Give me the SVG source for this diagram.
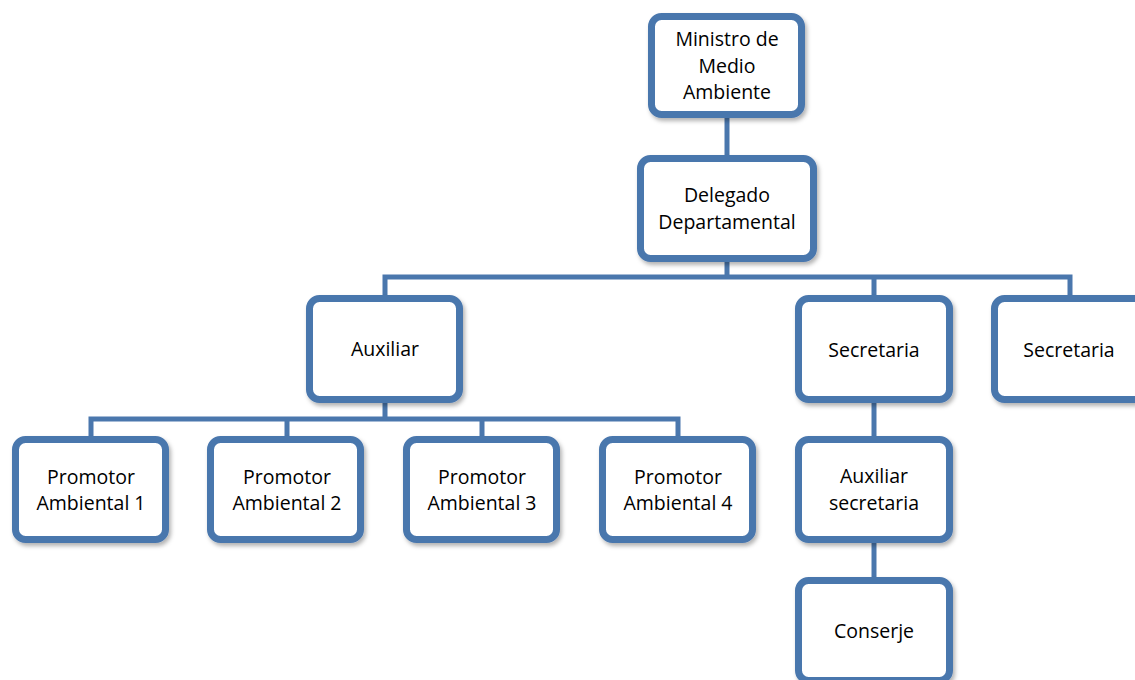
<svg xmlns="http://www.w3.org/2000/svg" width="1135" height="680" viewBox="0 0 1135 680">
<style>
.box{fill:#ffffff;stroke:#4a77ad;stroke-width:7;filter:url(#sh)}
.conn{fill:none;stroke:#4a77ad;stroke-width:5}
text{font-family:"Open Sans","Liberation Sans",sans-serif;font-size:19.5px;fill:#000000;text-anchor:middle}
</style>
<defs>
<filter id="sh" x="-10%" y="-10%" width="130%" height="130%">
<feDropShadow dx="2" dy="3" stdDeviation="2" flood-color="#000000" flood-opacity="0.3"/>
</filter>
</defs>
<rect width="1135" height="680" fill="#ffffff"/>
<g id="connectors">
<path class="conn" d="M727 118V155"/>
<path class="conn" d="M727 262V277M385 295V277H1070V295M874 277V295"/>
<path class="conn" d="M385 403V419M91 436V419H678V436M287 419V436M482 419V436"/>
<path class="conn" d="M874 403V436"/>
<path class="conn" d="M874 543V577"/>
</g>
<g id="ministro">
<rect class="box" x="651.5" y="16.5" width="150" height="98" rx="10"/>
<text x="727" y="46">Ministro de</text>
<text x="727" y="72.5">Medio</text>
<text x="727" y="99">Ambiente</text>
</g>
<g id="delegado">
<rect class="box" x="640.5" y="158.5" width="173" height="100" rx="10"/>
<text x="727" y="202">Delegado</text>
<text x="727" y="228.5">Departamental</text>
</g>
<g id="auxiliar">
<rect class="box" x="309.5" y="298.5" width="150" height="101" rx="10"/>
<text x="385" y="356">Auxiliar</text>
</g>
<g id="secretaria1">
<rect class="box" x="798.5" y="298.5" width="151" height="101" rx="10"/>
<text x="874" y="357">Secretaria</text>
</g>
<g id="secretaria2">
<rect class="box" x="994.5" y="298.5" width="150" height="101" rx="10"/>
<text x="1069" y="357">Secretaria</text>
</g>
<g id="promotor1">
<rect class="box" x="15.5" y="439.5" width="150" height="100" rx="10"/>
<text x="91" y="483.5">Promotor</text>
<text x="91" y="510">Ambiental 1</text>
</g>
<g id="promotor2">
<rect class="box" x="210.5" y="439.5" width="150" height="100" rx="10"/>
<text x="287" y="483.5">Promotor</text>
<text x="287" y="510">Ambiental 2</text>
</g>
<g id="promotor3">
<rect class="box" x="406.5" y="439.5" width="150" height="100" rx="10"/>
<text x="482" y="483.5">Promotor</text>
<text x="482" y="510">Ambiental 3</text>
</g>
<g id="promotor4">
<rect class="box" x="602.5" y="439.5" width="150" height="100" rx="10"/>
<text x="678" y="483.5">Promotor</text>
<text x="678" y="510">Ambiental 4</text>
</g>
<g id="auxiliar-secretaria">
<rect class="box" x="798.5" y="439.5" width="151" height="100" rx="10"/>
<text x="874" y="483">Auxiliar</text>
<text x="874" y="509.5">secretaria</text>
</g>
<g id="conserje">
<rect class="box" x="798.5" y="580.5" width="151" height="100" rx="10"/>
<text x="874" y="637.5">Conserje</text>
</g>
</svg>
